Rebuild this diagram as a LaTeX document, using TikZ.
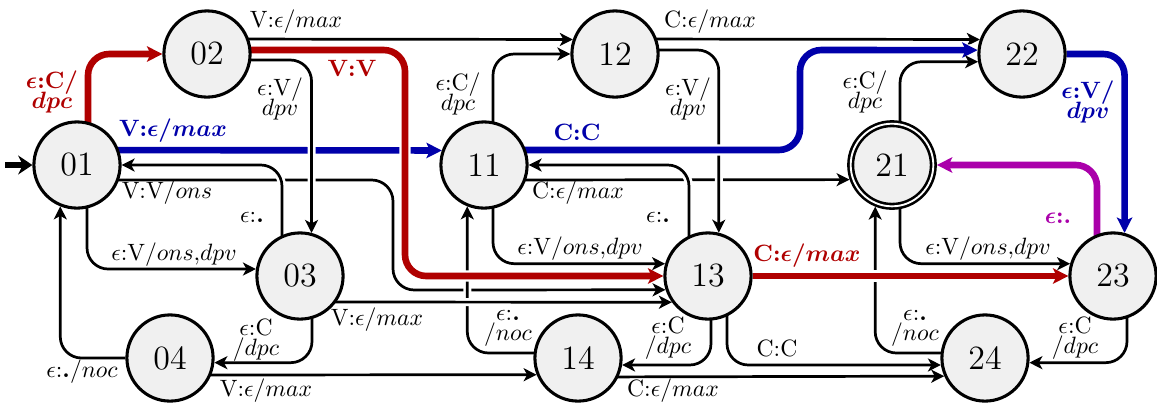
\documentclass[tikz,border=0pt]{standalone}
\usetikzlibrary{arrows.meta,calc}
\pgfdeclarelayer{bg}
\pgfsetlayers{bg,main}
\definecolor{cred}{RGB}{176,0,0}
\definecolor{cblue}{RGB}{0,0,170}
\definecolor{cmag}{RGB}{170,0,170}
\definecolor{nfill}{RGB}{240,240,240}
\newcommand{\edot}{\textbf{.}}
\begin{document}
\begin{tikzpicture}[x=0.4235pt,y=-0.4235pt,
  st/.style={circle,draw,line width=1.3pt,fill=nfill,minimum size=36.5pt,inner sep=0pt,font=\Large},
  acc/.style={st,double,double distance=0.8pt,line width=1.1pt,minimum size=35pt,outer sep=1.5pt},
  ed/.style={line width=1.15pt,rounded corners=9pt,-{Stealth[length=5.5pt,width=5.5pt,inset=1.5pt]},preaction={draw=white,line width=3.4pt,-}},
  ced/.style={line width=2.8pt,rounded corners=9pt,-{Stealth[length=6.5pt,width=6.5pt,inset=1.5pt]},preaction={draw=white,line width=4.8pt,-}},
  lab/.style={inner sep=0pt,font=\normalsize,align=center},
  blab/.style={lab,font=\normalsize\bfseries\boldmath},
]
\useasboundingbox (0,0) rectangle (1157,407);
% states
\node[st] (n01) at (77,165) {01};
\node[st] (n02) at (207,54) {02};
\node[st] (n03) at (300,276) {03};
\node[st] (n04) at (170,358) {04};
\node[st] (n11) at (484,165) {11};
\node[st] (n12) at (615,54) {12};
\node[st] (n13) at (708,276) {13};
\node[st] (n14) at (578,358) {14};
\node[acc] (n21) at (892,165) {21};
\node[st] (n22) at (1022,54) {22};
\node[st] (n23) at (1113,276) {23};
\node[st] (n24) at (985,358) {24};
\coordinate (start) at (5,165);

\begin{pgfonlayer}{bg}
% lowest edges (crossed by others)
\draw[ed] ($(n01)+(0,15)$) -| (393,290) -- (n13.198);
\draw[ced,cblue] ($(n01)+(0,-15)$) -- (n11.161);
\draw[ed] ($(n11)+(0,15)$) -- (n21.199);
\draw[ed] ($(n14)+(0,-5)$) -| (n11.248);
\draw[ed] ($(n24)+(0,-5)$) -| (n21.248);
\draw[ed] ($(n12)+(0,-4)$) -| (n13.76);
% group 0
\draw[ed] ($(n02)+(0,-15)$) -- (n12.161);
\draw[ced,cred] ($(n02)+(0,-4)$) -| (405,276) -- (n13.west);
\draw[ed] ($(n02)+(0,6)$) -| (n03.75);
\draw[ed] ($(n03)+(-18,0)$) |- (n01.east);
\draw[ced,cred] ($(n01)+(11,0)$) |- (n02.west);
\draw[ed] ($(n01)+(10,0)$) |- (n03.171);
\draw[ed] ($(n03)+(12,0)$) |- (n04.354);
\draw[ed] (n04.west) -| (n01.248);
\draw[ed] ($(n04)+(0,17)$) -- (n14.202);
\draw[ed] ($(n03)+(0,26)$) -- (n13.216);
% group 1
\draw[ed] ($(n11)+(9,0)$) |- (n12.west);
\draw[ed] ($(n12)+(0,-15)$) -- (n22.161);
\draw[ced,cblue] ($(n11)+(0,-15)$) -| (800,50) -- (n22.175);
\draw[ed] ($(n13)+(-19,0)$) |- (n11.east);
\draw[ed] ($(n11)+(9,0)$) |- (n13.164);
\draw[ced,cred] (n13.east) -- (n23.west);
\draw[ed] ($(n13)+(3,0)$) |- (n14.351);
\draw[ed] ($(n14)+(0,19)$) -- (n24.204);
\draw[ed] ($(n13)+(19,0)$) |- (n24.189);
% group 2
\draw[ed] ($(n21)+(8,0)$) |- (n22.190);
\draw[ced,cblue] (n22.east) -| (n23.75);
\draw[ced,cmag] ($(n23)+(-16,0)$) |- (n21.east);
\draw[ed] ($(n21)+(8,0)$) |- (n23.164);
\draw[ed] ($(n23)+(14,0)$) |- (n24.354);
% initial
\draw[line width=2.6pt,-{Stealth[length=6pt,width=8pt]}] (start) -- (n01.west);
\end{pgfonlayer}

% labels group 0
\node[blab,text=cred] (l0102) at (52,92) {$\epsilon$:C$/$\\[-3.5pt]$dpc$};
\node[lab] (l0212) at (296,22) {V:$\epsilon/max$};
\node[blab,text=cred] (l0213) at (352,68) {V:V};
\node[lab] (l0203) at (280,99) {$\epsilon$:V$/$\\[-3.5pt]$dpv$};
\node[blab,text=cblue] (l0111) at (173,131) {V:$\epsilon/max$};
\node[lab] (l0301) at (252,217) {$\epsilon$:\edot};
\node[lab] (l0113) at (167,193) {V:V$/ons$};
\node[lab] (l0103) at (174,255) {$\epsilon$:V$/ons{,}dpv$};
\node[lab] (l0304) at (256,340) {$\epsilon$:C\\[-3.5pt]$/dpc$};
\node[lab] (l0401) at (82,372) {$\epsilon$:\edot$/noc$};
\node[lab] (l0414) at (266,391) {V:$\epsilon/max$};
\node[lab] (l0313) at (377,320) {V:$\epsilon/max$};
% labels group 1
\node[lab] (l1112) at (458,94) {$\epsilon$:C$/$\\[-3.5pt]$dpc$};
\node[lab] (l1222) at (710,22) {C:$\epsilon/max$};
\node[lab] (l1213) at (688,99) {$\epsilon$:V$/$\\[-3.5pt]$dpv$};
\node[blab,text=cblue] (l1122) at (577,132) {C:C};
\node[lab] (l1311) at (658,217) {$\epsilon$:\edot};
\node[lab] (l1121) at (578,193) {C:$\epsilon/max$};
\node[lab] (l1113) at (580,249) {$\epsilon$:V$/ons{,}dpv$};
\node[blab,text=cred] (l1323) at (807,256) {C:$\epsilon/max$};
\node[lab] (l1314) at (668,338) {$\epsilon$:C\\[-3.5pt]$/dpc$};
\node[lab] (l1411) at (508,328) {$\epsilon$:\edot\\[-3.5pt]$/noc$};
\node[lab] (l1424) at (673,391) {C:$\epsilon/max$};
\node[lab] (l1324) at (777,348) {C:C};
% labels group 2
\node[lab] (l2122) at (865,92) {$\epsilon$:C$/$\\[-3.5pt]$dpc$};
\node[blab,text=cblue] (l2223) at (1088,102) {$\epsilon$:V$/$\\[-3.5pt]$dpv$};
\node[blab,text=cmag] (l2321) at (1058,218) {$\epsilon$:\edot};
\node[lab] (l2123) at (988,249) {$\epsilon$:V$/ons{,}dpv$};
\node[lab] (l2324) at (1075,338) {$\epsilon$:C\\[-3.5pt]$/dpc$};
\node[lab] (l2421) at (915,328) {$\epsilon$:\edot\\[-3.5pt]$/noc$};
\end{tikzpicture}
\end{document}
